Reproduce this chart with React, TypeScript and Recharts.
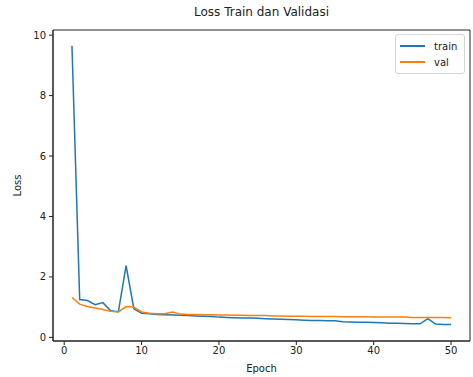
import React from 'react';
import { LineChart, Line, XAxis, YAxis, ReferenceArea } from 'recharts';

const epochs = [
  1, 2, 3, 4, 5, 6, 7, 8, 9, 10,
  11, 12, 13, 14, 15, 16, 17, 18, 19, 20,
  21, 22, 23, 24, 25, 26, 27, 28, 29, 30,
  31, 32, 33, 34, 35, 36, 37, 38, 39, 40,
  41, 42, 43, 44, 45, 46, 47, 48, 49, 50,
];

const trainLoss = [
  9.65, 1.25, 1.22, 1.08, 1.15, 0.88, 0.85, 2.37, 0.95, 0.8,
  0.78, 0.76, 0.75, 0.74, 0.73, 0.72, 0.71, 0.7, 0.69, 0.67,
  0.66, 0.65, 0.64, 0.64, 0.63, 0.62, 0.61, 0.6, 0.59, 0.58,
  0.57, 0.56, 0.56, 0.55, 0.55, 0.52, 0.51, 0.5, 0.5, 0.49,
  0.48, 0.47, 0.47, 0.46, 0.45, 0.45, 0.62, 0.44, 0.43, 0.43,
];

const valLoss = [
  1.32, 1.1, 1.02, 0.97, 0.92, 0.86, 0.84, 1.02, 1.0, 0.84,
  0.8, 0.78, 0.78, 0.84, 0.77, 0.76, 0.76, 0.75, 0.75, 0.74,
  0.74, 0.73, 0.73, 0.72, 0.72, 0.72, 0.71, 0.71, 0.7, 0.7,
  0.7, 0.69, 0.69, 0.69, 0.69, 0.68, 0.68, 0.68, 0.68, 0.67,
  0.67, 0.67, 0.67, 0.67, 0.66, 0.66, 0.66, 0.66, 0.66, 0.65,
];

const xTicks = [0, 10, 20, 30, 40, 50];
const yTicks = [0, 2, 4, 6, 8, 10];

const xDomain: [number, number] = [-1.45, 52.45];
const yDomain: [number, number] = [-0.12, 10.17];

const data = epochs.map((e, i) => ({ epoch: e, train: trainLoss[i], val: valLoss[i] }));

const font = '"DejaVu Sans", sans-serif';
const tickStyle = { fill: '#222', fontSize: 10, fontFamily: font };

export default function App() {
  return (
    <div style={{ position: 'relative', width: 473, height: 377, background: '#fff' }}>
      <style>{'body{margin:0}'}</style>
      <div
        style={{
          position: 'absolute', left: 0, width: 523, top: 5, textAlign: 'center',
          fontFamily: font, fontSize: 12, color: '#222', lineHeight: '14px',
        }}
      >
        Loss Train dan Validasi
      </div>
      <LineChart width={473} height={377} data={data} margin={{ top: 30, right: 3, bottom: 0, left: 0 }}>
        <XAxis
          dataKey="epoch"
          type="number"
          domain={xDomain}
          ticks={xTicks}
          tick={tickStyle}
          tickSize={4}
          tickMargin={2}
          stroke="#222"
          height={36}
          allowDataOverflow
          label={{ value: 'Epoch', position: 'insideBottom', offset: 5, style: { fill: '#222', fontSize: 10, fontFamily: font } }}
        />
        <YAxis
          type="number"
          domain={yDomain}
          ticks={yTicks}
          tick={tickStyle}
          tickSize={4}
          tickMargin={3}
          stroke="#222"
          width={53}
          allowDataOverflow
          label={{ value: 'Loss', angle: -90, position: 'insideLeft', offset: 17, style: { fill: '#222', fontSize: 10, fontFamily: font, textAnchor: 'middle' } }}
        />
        <ReferenceArea x1={xDomain[0]} x2={xDomain[1]} y1={yDomain[0]} y2={yDomain[1]} fill="none" fillOpacity={0} stroke="#222" strokeWidth={1} />
        <Line dataKey="train" stroke="#1f77b4" strokeWidth={1.5} dot={false} isAnimationActive={false} />
        <Line dataKey="val" stroke="#ff7f0e" strokeWidth={1.5} dot={false} isAnimationActive={false} />
      </LineChart>
      <div
        style={{
          position: 'absolute', left: 395, top: 34, width: 70, height: 40, boxSizing: 'border-box',
          border: '1px solid #d6d6d6', borderRadius: 3, background: 'rgba(255,255,255,0.8)',
          fontFamily: font, fontSize: 10, color: '#222',
        }}
      >
        {[
          { name: 'train', color: '#1f77b4' },
          { name: 'val', color: '#ff7f0e' },
        ].map((it, i) => (
          <div key={it.name} style={{ position: 'absolute', left: 4, top: 4 + i * 16, height: 14, display: 'flex', alignItems: 'center' }}>
            <span style={{ display: 'inline-block', width: 25, height: 1.5, background: it.color, marginRight: 9 }} />
            <span>{it.name}</span>
          </div>
        ))}
      </div>
    </div>
  );
}
